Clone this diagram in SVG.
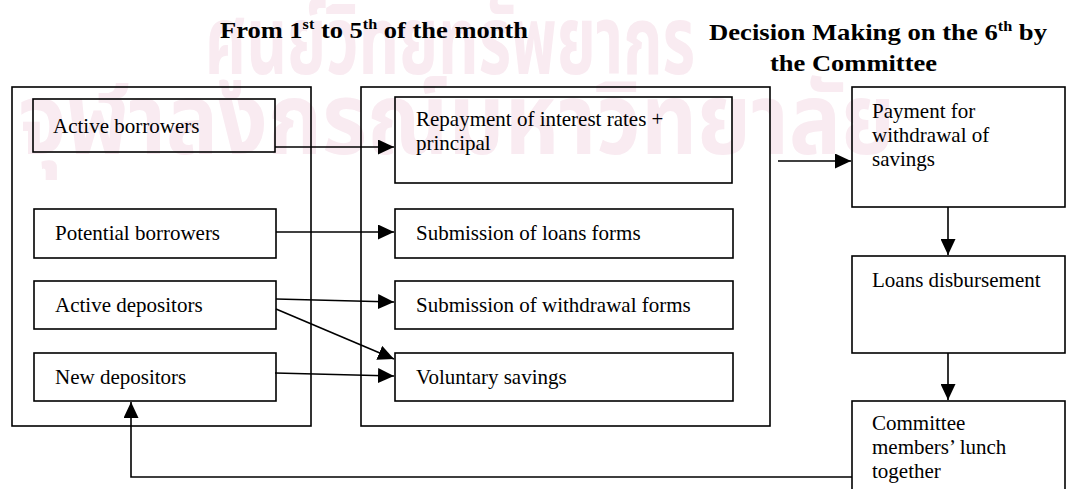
<svg xmlns="http://www.w3.org/2000/svg" width="1067" height="489" viewBox="0 0 1067 489">
<style>
.box{fill:none;stroke:#000;stroke-width:1.6}
.t{font-family:"Liberation Serif","Times New Roman",serif;font-size:21px;fill:#000}
.h{font-family:"Liberation Serif","Times New Roman",serif;font-size:23px;font-weight:bold;fill:#000}
.c{fill:none;stroke:#000;stroke-width:1.6}
.wm{font-family:"Noto Sans Thai","Noto Sans","DejaVu Sans",sans-serif;font-weight:bold;fill:#f9ebf1}
</style>
<defs>
<marker id="ah" markerUnits="userSpaceOnUse" markerWidth="17" markerHeight="15" refX="16" refY="7.5" orient="auto">
<path d="M0,0 L16,7.5 L0,15 z" fill="#000"/>
</marker>
</defs>
<rect width="1067" height="489" fill="#fff"/>
<g id="watermark">
<text class="wm" x="205" y="74" font-size="96" textLength="490" lengthAdjust="spacingAndGlyphs">ศูนย์วิทยทรัพยากร</text>
<text class="wm" x="18" y="154" font-size="100" textLength="877" lengthAdjust="spacingAndGlyphs">จุฬาลงกรณ์มหาวิทยาลัย</text>
</g>
<g id="titles">
<text class="h" x="220" y="38" textLength="308" lengthAdjust="spacingAndGlyphs">From 1<tspan font-size="14" dy="-9">st</tspan><tspan dy="9"> to 5</tspan><tspan font-size="14" dy="-9">th</tspan><tspan dy="9"> of the month</tspan></text>
<text class="h" x="709" y="40" textLength="338" lengthAdjust="spacingAndGlyphs">Decision Making on the 6<tspan font-size="14" dy="-9">th</tspan><tspan dy="9"> by</tspan></text>
<text class="h" x="770" y="71" textLength="167" lengthAdjust="spacingAndGlyphs">the Committee</text>
</g>
<g id="group-members">
<rect class="box" x="12" y="87" width="299" height="339"/>
</g>
<g id="group-activities">
<rect class="box" x="361" y="87" width="409" height="339"/>
</g>
<g id="active-borrowers">
<rect class="box" x="33" y="99" width="242" height="53"/>
<text class="t" x="53" y="133">Active borrowers</text>
</g>
<g id="potential-borrowers">
<rect class="box" x="34" y="209" width="242" height="49"/>
<text class="t" x="55" y="240">Potential borrowers</text>
</g>
<g id="active-depositors">
<rect class="box" x="34" y="281" width="242" height="48"/>
<text class="t" x="55" y="312">Active depositors</text>
</g>
<g id="new-depositors">
<rect class="box" x="34" y="353" width="242" height="48"/>
<text class="t" x="55" y="384">New depositors</text>
</g>
<g id="repayment">
<rect class="box" x="395" y="97" width="337" height="86"/>
<text class="t" x="416" y="126">Repayment of interest rates +</text>
<text class="t" x="416" y="150">principal</text>
</g>
<g id="loan-forms">
<rect class="box" x="395" y="209" width="338" height="49"/>
<text class="t" x="416" y="240">Submission of loans forms</text>
</g>
<g id="withdrawal-forms">
<rect class="box" x="395" y="281" width="338" height="48"/>
<text class="t" x="416" y="312">Submission of withdrawal forms</text>
</g>
<g id="voluntary-savings">
<rect class="box" x="395" y="353" width="338" height="48"/>
<text class="t" x="416" y="384">Voluntary savings</text>
</g>
<g id="payment-withdrawal">
<rect class="box" x="852" y="87" width="213" height="120"/>
<text class="t" x="872" y="118">Payment for</text>
<text class="t" x="872" y="142">withdrawal of</text>
<text class="t" x="872" y="166">savings</text>
</g>
<g id="loans-disbursement">
<rect class="box" x="852" y="256" width="213" height="97"/>
<text class="t" x="872" y="287">Loans disbursement</text>
</g>
<g id="committee-lunch">
<rect class="box" x="852" y="401" width="213" height="100"/>
<text class="t" x="872" y="430">Committee</text>
<text class="t" x="872" y="454">members’ lunch</text>
<text class="t" x="872" y="478">together</text>
</g>
<g id="connectors">
<line class="c" x1="275" y1="147" x2="394" y2="147" marker-end="url(#ah)"/>
<line class="c" x1="276" y1="232" x2="394" y2="232" marker-end="url(#ah)"/>
<line class="c" x1="276" y1="299" x2="394" y2="302" marker-end="url(#ah)"/>
<line class="c" x1="276" y1="309" x2="394" y2="359" marker-end="url(#ah)"/>
<line class="c" x1="275" y1="373" x2="394" y2="376" marker-end="url(#ah)"/>
<line class="c" x1="778" y1="161" x2="851" y2="161" marker-end="url(#ah)"/>
<line class="c" x1="948" y1="207" x2="948" y2="255" marker-end="url(#ah)"/>
<line class="c" x1="948" y1="353" x2="948" y2="400" marker-end="url(#ah)"/>
<path class="c" d="M852,477 H131 V402" marker-end="url(#ah)"/>
</g>
</svg>
